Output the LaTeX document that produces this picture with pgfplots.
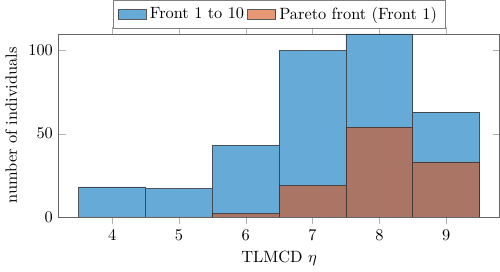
\documentclass[border=0pt]{standalone}
\usepackage{pgfplots}
\pgfplotsset{compat=1.18}
\definecolor{mblue}{rgb}{0,0.447,0.741}
\definecolor{morange}{rgb}{0.85,0.325,0.098}
\begin{document}
\begin{tikzpicture}
\begin{axis}[
  scale only axis,
  width=270pt, height=112pt,
  xmin=3.2, xmax=9.8,
  ymin=0, ymax=110,
  xtick={4,5,6,7,8,9},
  ytick={0,50,100},
  xlabel={TLMCD $\eta$},
  ylabel={number of individuals},
  ybar, bar width=1, bar shift=0pt,
  legend style={at={(0.5,1.03)}, anchor=south, legend columns=2, draw=black!50},
  legend cell align=left,
  area legend,
  axis line style={black!60},
  tick style={black!30},
]
\addplot[fill=mblue, fill opacity=0.6, draw=black!80, draw opacity=0.8] coordinates {
(4,18) (5,17) (6,43) (7,100) (8,110) (9,63)};
\addlegendentry{Front 1 to 10}
\addplot[fill=morange, fill opacity=0.6, draw=black!80, draw opacity=0.8] coordinates {
(4,0) (5,0) (6,2) (7,19) (8,54) (9,33)};
\addlegendentry{Pareto front (Front 1)}
\end{axis}
\end{tikzpicture}
\end{document}
